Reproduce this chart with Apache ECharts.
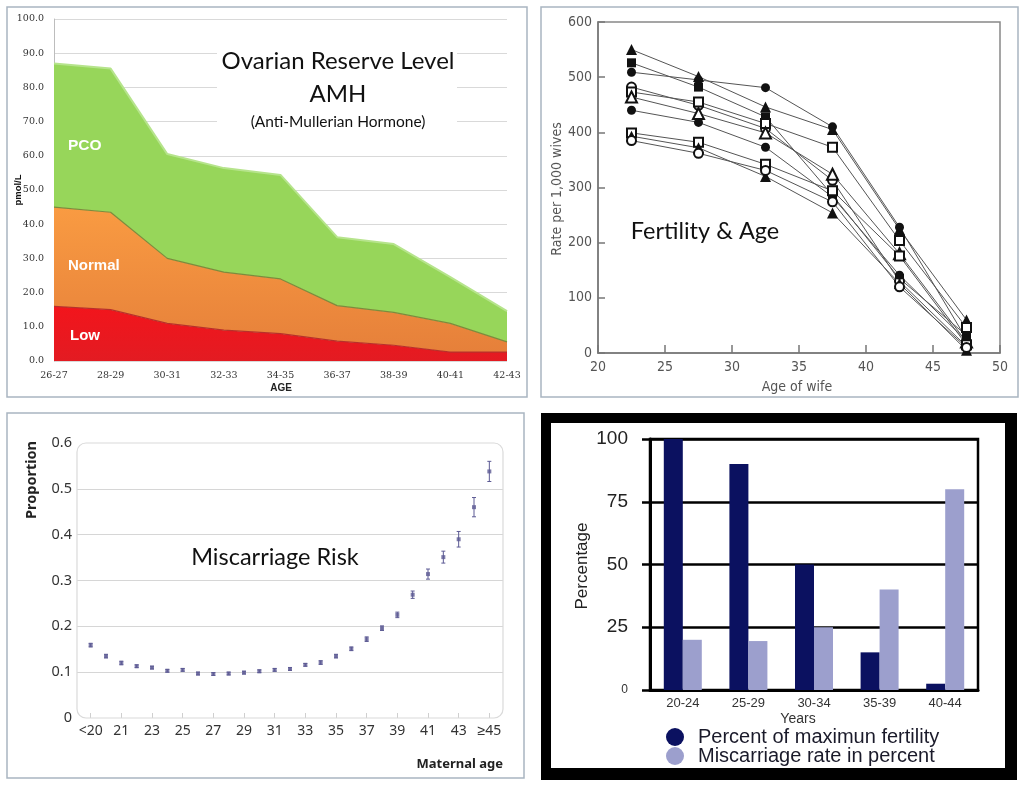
<!DOCTYPE html>
<html><head><meta charset="utf-8">
<script src="https://cdn.jsdelivr.net/npm/echarts@6/dist/echarts.min.js"></script>
<style>html,body{margin:0;padding:0;background:#fff}#c{width:1024px;height:787px}</style>
</head><body><div id="c"></div>
<script>
// ---- Panel 1: Ovarian reserve (AMH), stacked areas ----
const amhAges = ['26-27','28-29','30-31','32-33','34-35','36-37','38-39','40-41','42-43'];
const amhLow = [16, 15, 11, 9, 8, 5.8, 4.6, 2.6, 2.6];
const amhNormal = [29, 28.5, 19, 17, 16, 10.4, 9.6, 8.4, 3];
const amhPCO = [42, 42, 30.5, 30.4, 30.4, 20, 20, 13.5, 9];

// ---- Panel 2: Fertility & age (rate per 1,000 wives) ----
const fertAges = [22.5, 27.5, 32.5, 37.5, 42.5, 47.5];
const fertA = [550, 501, 446, 405, 224, 60];
const fertB = [526, 482, 428, 286, 135, 32];
const fertC = [509, 495, 481, 410, 228, 25];
const fertD = [482, 449, 407, 313, 130, 12];
const fertE = [473, 455, 416, 373, 204, 46];
const fertF = [464, 434, 399, 324, 180, 20];
const fertG = [440, 418, 373, 283, 141, 22];
const fertH = [399, 382, 342, 294, 176, 15];
const fertI = [393, 372, 320, 254, 126, 5];
const fertJ = [385, 362, 331, 274, 120, 10];

// ---- Panel 3: Miscarriage risk ----
const missAges = ['<20','20','21','22','23','24','25','26','27','28','29','30','31','32','33','34','35','36','37','38','39','40','41','42','43','44','≥45'];
const missProp = [0.159,0.135,0.120,0.113,0.110,0.103,0.105,0.097,0.096,0.097,0.099,0.102,0.105,0.107,0.116,0.121,0.135,0.151,0.172,0.196,0.225,0.269,0.314,0.351,0.390,0.460,0.538];
const missErr = [0.004,0.004,0.004,0.003,0.003,0.003,0.003,0.003,0.003,0.003,0.003,0.003,0.003,0.003,0.003,0.004,0.004,0.004,0.005,0.005,0.006,0.008,0.011,0.013,0.017,0.021,0.022];

// ---- Panel 4: Fertility vs miscarriage ----
const yearGroups = ['20-24','25-29','30-34','35-39','40-44'];
const pctMaxFertility = [100, 90, 50, 15, 2.5];
const miscarriageRate = [20, 19.5, 25, 40, 80];

const NARROW = "'Liberation Sans Narrow','DejaVu Sans Condensed',sans-serif";
const TITLEF = "Lato, 'Noto Sans', sans-serif";

const fertSeriesDefs = [
  [fertA,'triangle',11],[fertB,'rect',9],[fertC,'circle',9],[fertD,'emptyCircle',9],
  [fertE,'emptyRect',9],[fertF,'emptyTriangle',11],[fertG,'circle',9],[fertH,'emptyRect',9],
  [fertI,'triangle',11],[fertJ,'emptyCircle',9]
];
const fertSeries = fertSeriesDefs.map((d,i) => ({
  type:'line', xAxisIndex:1, yAxisIndex:1, name:'f'+i,
  data: fertAges.map((x,j)=>[x,d[0][j]]),
  symbol:d[1], symbolSize:d[2], showAllSymbol:true,
  lineStyle:{color:'#555',width:1}, itemStyle:{color:'#111',borderWidth:1.2},
  z: 3
}));

const errData = missProp.map((v,i)=>[i, v - missErr[i], v + missErr[i]]);

const chart = echarts.init(document.getElementById('c'), null, {renderer:'canvas'});
chart.setOption({
  animation:false,
  backgroundColor:'#fff',
  grid:[
    {left:54, right:517, top:19, bottom:426},
    {left:598, right:24, top:22, bottom:434, show:true, borderColor:'#888', borderWidth:1.5},
    {left:77, right:521, top:443, bottom:69},
    {left:83, right:527, top:443, bottom:69},
    {left:650, right:46, top:439, bottom:97, show:true, borderColor:'#000', borderWidth:2.5}
  ],
  xAxis:[
    {gridIndex:0, type:'category', data:amhAges, boundaryGap:false,
     axisLine:{show:false}, axisTick:{show:false},
     axisLabel:{fontFamily:"'DejaVu Serif',serif", fontSize:9.5, color:'#333', margin:10}},
    {gridIndex:1, type:'value', min:20, max:50, interval:5,
     axisLine:{lineStyle:{color:'#777',width:1.5}},
     axisTick:{inside:true,length:8,lineStyle:{color:'#777',width:1.5}},
     splitLine:{show:false},
     axisLabel:{fontFamily:NARROW, fontSize:14, color:'#555', margin:7}},
    {gridIndex:2, type:'value', show:false, min:0, max:1},
    {gridIndex:3, type:'category', data:missAges, boundaryGap:true,
     axisLine:{show:false},
     axisTick:{show:true, inside:true, interval:1, alignWithLabel:true, length:5, lineStyle:{color:'#cfcfcf'}},
     axisLabel:{interval:1, fontFamily:"'Noto Sans',sans-serif", fontSize:14, color:'#333', margin:6}},
    {gridIndex:4, type:'category', data:yearGroups,
     axisLine:{lineStyle:{color:'#000',width:3}}, axisTick:{show:false},
     axisLabel:{fontFamily:"'Liberation Sans',Arial,sans-serif", fontSize:13, color:'#333', margin:7}}
  ],
  yAxis:[
    {gridIndex:0, type:'value', min:0, max:100, interval:10,
     axisLine:{show:true, lineStyle:{color:'#bdbdbd'}}, axisTick:{show:false},
     splitLine:{lineStyle:{color:'#d9d9d9'}},
     axisLabel:{fontFamily:"'DejaVu Serif',serif", fontSize:9.5, color:'#333', margin:10,
       formatter:v=>v.toFixed(1)}},
    {gridIndex:1, type:'value', min:0, max:600, interval:100,
     axisLine:{show:true, lineStyle:{color:'#777',width:1.5}},
     axisTick:{show:true, inside:true, length:7, lineStyle:{color:'#777',width:1.5}},
     splitLine:{show:false},
     axisLabel:{fontFamily:NARROW, fontSize:14, color:'#555', margin:6}},
    {gridIndex:2, type:'value', min:0, max:0.6, interval:0.1,
     axisLine:{show:false}, axisTick:{show:false},
     splitLine:{lineStyle:{color:['rgba(0,0,0,0)','#d6d6d6','#d6d6d6','#d6d6d6','#d6d6d6','#d6d6d6','rgba(0,0,0,0)']}},
     axisLabel:{fontFamily:"'Noto Sans',sans-serif", fontSize:14.5, color:'#333', margin:5,
       formatter:v=> v===0 ? '0' : v.toFixed(1)}},
    {gridIndex:3, type:'value', min:0, max:0.6, show:false},
    {gridIndex:4, type:'value', min:0, max:100, interval:25,
     axisLine:{show:true, lineStyle:{color:'#000',width:3}},
     axisTick:{show:true, length:8, lineStyle:{color:'#000',width:2.5}},
     splitLine:{lineStyle:{color:'#000',width:2.5}},
     axisLabel:{margin:22, formatter:v=> v===0 ? '{s|0}' : '{b|'+v+'}',
       rich:{s:{fontFamily:"'Liberation Sans',Arial,sans-serif", fontSize:12, color:'#333'},
             b:{fontFamily:"'Liberation Sans',Arial,sans-serif", fontSize:19, color:'#222'}}}}
  ],
  legend:{
    data:['Percent of maximun fertility','Miscarriage rate in percent'],
    orient:'vertical', left:666, top:727, padding:0, icon:'circle', itemWidth:18, itemHeight:18, itemGap:-1,
    textStyle:{fontFamily:"'Liberation Sans',Arial,sans-serif", fontSize:20, color:'#1a1a2a', lineHeight:18, padding:[0,0,0,9]}
  },
  series:[
    {type:'line', name:'Low', xAxisIndex:0, yAxisIndex:0, stack:'amh', data:amhLow, symbol:'none',
     lineStyle:{color:'#b8302a', width:1.2},
     areaStyle:{opacity:1, color:new echarts.graphic.LinearGradient(0,0,0,1,[{offset:0,color:'#f2151c'},{offset:1,color:'#e31b22'}])}},
    {type:'line', name:'Normal', xAxisIndex:0, yAxisIndex:0, stack:'amh', data:amhNormal, symbol:'none',
     lineStyle:{color:'#7d8b3c', width:1.2},
     areaStyle:{opacity:1, color:new echarts.graphic.LinearGradient(0,0,0,1,[{offset:0,color:'#f99b42'},{offset:1,color:'#e6803a'}])}},
    {type:'line', name:'PCO', xAxisIndex:0, yAxisIndex:0, stack:'amh', data:amhPCO, symbol:'none',
     lineStyle:{color:'#b6e48c', width:2},
     areaStyle:{opacity:1, color:'#97d65a'}},
    ...fertSeries,
    {type:'custom', name:'err', xAxisIndex:3, yAxisIndex:3, data:errData, encode:{x:0,y:[1,2]}, z:3,
     renderItem:function(params, api){
       const lo = api.coord([api.value(0), api.value(1)]);
       const hi = api.coord([api.value(0), api.value(2)]);
       const st = {stroke:'#5c5a94', lineWidth:1};
       return {type:'group', children:[
         {type:'line', shape:{x1:lo[0],y1:lo[1],x2:hi[0],y2:hi[1]}, style:st},
         {type:'line', shape:{x1:lo[0]-2,y1:lo[1],x2:lo[0]+2,y2:lo[1]}, style:st},
         {type:'line', shape:{x1:hi[0]-2,y1:hi[1],x2:hi[0]+2,y2:hi[1]}, style:st}
       ]};
     }},
    {type:'scatter', name:'prop', xAxisIndex:3, yAxisIndex:3, data:missProp, symbol:'rect', symbolSize:4,
     itemStyle:{color:'#5c5a94'}, z:4},
    {type:'bar', name:'Percent of maximun fertility', xAxisIndex:4, yAxisIndex:4, data:pctMaxFertility,
     barWidth:19, barGap:'0%', itemStyle:{color:'#0b1160'}, z:1},
    {type:'bar', name:'Miscarriage rate in percent', xAxisIndex:4, yAxisIndex:4, data:miscarriageRate,
     barWidth:19, barGap:'0%', itemStyle:{color:'#9c9fcd'}, z:1}
  ],
  graphic:{elements:[
    // panel frames
    {type:'rect', z:-10, shape:{x:541,y:413,width:476,height:367}, style:{fill:'#000'}},
    {type:'rect', z:-9, shape:{x:551,y:423,width:454,height:345}, style:{fill:'#fff'}},
    {type:'rect', z:20, shape:{x:7,y:7,width:520,height:390}, style:{fill:'none',stroke:'#a9b5c1',lineWidth:1.5}},
    {type:'rect', z:20, shape:{x:541,y:7,width:477,height:390}, style:{fill:'none',stroke:'#a9b5c1',lineWidth:1.5}},
    {type:'rect', z:20, shape:{x:7,y:413,width:517,height:365}, style:{fill:'none',stroke:'#a9b5c1',lineWidth:1.5}},
    {type:'rect', z:20, shape:{x:77,y:443,width:426,height:275,r:9}, style:{fill:'none',stroke:'#dadada',lineWidth:1.2}},
    // panel 1 title box
    {type:'rect', z:1, shape:{x:217,y:42,width:240,height:94}, style:{fill:'#fff'}},
    {type:'text', z:20, x:338, y:61, style:{text:'Ovarian Reserve Level', font:"24px "+TITLEF, fill:'#111', align:'center', verticalAlign:'middle'}},
    {type:'text', z:20, x:338, y:94, style:{text:'AMH', font:"24px "+TITLEF, fill:'#111', align:'center', verticalAlign:'middle'}},
    {type:'text', z:20, x:338, y:122, style:{text:'(Anti-Mullerian Hormone)', font:"15.5px "+TITLEF, fill:'#111', align:'center', verticalAlign:'middle'}},
    {type:'text', z:20, x:68, y:146, style:{text:'PCO', font:"bold 15.5px 'Liberation Sans',Arial,sans-serif", fill:'#fff', align:'left', verticalAlign:'middle'}},
    {type:'text', z:20, x:68, y:266, style:{text:'Normal', font:"bold 15px 'Liberation Sans',Arial,sans-serif", fill:'#fff', align:'left', verticalAlign:'middle'}},
    {type:'text', z:20, x:70, y:336, style:{text:'Low', font:"bold 15px 'Liberation Sans',Arial,sans-serif", fill:'#fff', align:'left', verticalAlign:'middle'}},
    {type:'text', z:20, x:18, y:190, rotation:Math.PI/2, style:{text:'pmol/L', font:"bold 9.5px 'Liberation Sans',Arial,sans-serif", fill:'#111', align:'center', verticalAlign:'middle'}},
    {type:'text', z:20, x:281, y:388, style:{text:'AGE', font:"bold 10px 'Liberation Sans',Arial,sans-serif", fill:'#222', align:'center', verticalAlign:'middle'}},
    // panel 2
    {type:'text', z:20, x:705, y:231, style:{text:'Fertility & Age', font:"23.5px "+TITLEF, fill:'#111', align:'center', verticalAlign:'middle'}},
    {type:'text', z:20, x:557, y:189, rotation:Math.PI/2, style:{text:'Rate per 1,000 wives', font:"14px "+NARROW, fill:'#555', align:'center', verticalAlign:'middle'}},
    {type:'text', z:20, x:797, y:387, style:{text:'Age of wife', font:"14px "+NARROW, fill:'#555', align:'center', verticalAlign:'middle'}},
    // panel 3
    {type:'text', z:20, x:275, y:557, style:{text:'Miscarriage Risk', font:"23.5px "+TITLEF, fill:'#111', align:'center', verticalAlign:'middle'}},
    {type:'text', z:20, x:32, y:480, rotation:Math.PI/2, style:{text:'Proportion', font:"bold 14.5px 'Noto Sans',sans-serif", fill:'#222', align:'center', verticalAlign:'middle'}},
    {type:'text', z:20, x:503, y:764, style:{text:'Maternal age', font:"bold 13px 'Noto Sans',sans-serif", fill:'#222', align:'right', verticalAlign:'middle'}},
    // panel 4
    {type:'text', z:20, x:582, y:566, rotation:Math.PI/2, style:{text:'Percentage', font:"17px 'Liberation Sans',Arial,sans-serif", fill:'#222', align:'center', verticalAlign:'middle'}},
    {type:'text', z:20, x:798, y:719, style:{text:'Years', font:"14px 'Liberation Sans',Arial,sans-serif", fill:'#333', align:'center', verticalAlign:'middle'}}
  ]}
});
</script></body></html>
